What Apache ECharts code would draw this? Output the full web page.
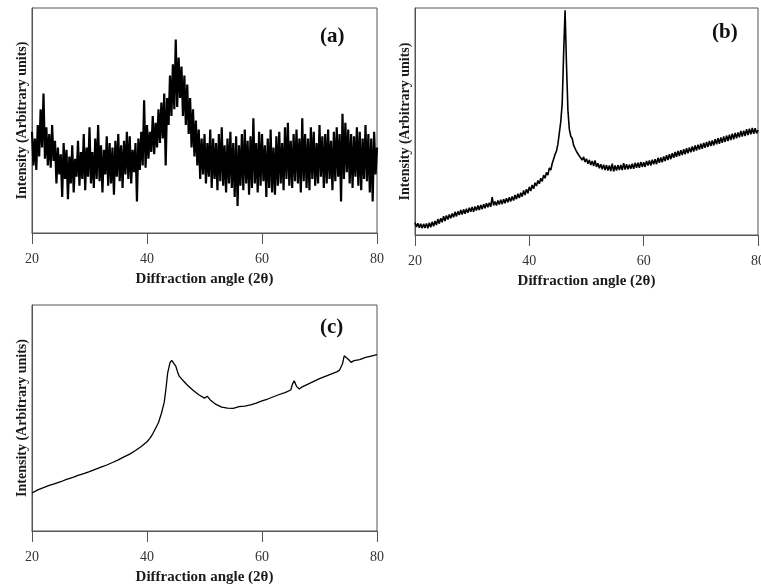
<!DOCTYPE html>
<html>
  <head>
    <meta http-equiv="Content-Type" content="text/html; charset=utf-8" />
    <title>XRD patterns (a) (b) (c)</title>
    <script src="https://cdn.jsdelivr.net/npm/echarts@6/dist/echarts.min.js"></script>
    <style>
      html,
      body {
        margin: 0;
        padding: 0;
        background: #fff;
      }
      #chart {
        width: 761px;
        height: 587px;
      }
    </style>
  </head>

  <body>
    <div id="chart"></div>

    <script type="text/javascript">
      "use strict"

      // x ticks shared by all three panels
      const xTicks = [20, 40, 60, 80]

      // (a) noisy pattern, one reading every 0.25 deg from 20 to 80
      const startA = 20
      const stepA = 0.25
      const intensA = [
        45, 30, 42, 28, 48, 34, 55, 38, // 20-21
        62, 33, 47, 30, 44, 29, 48, 32, // 22-23
        41, 22, 38, 26, 35, 16, 40, 24, // 24-25
        37, 15, 34, 22, 39, 18, 33, 25, // 26-27
        41, 21, 36, 24, 44, 19, 38, 25, // 28-29
        47, 22, 36, 20, 42, 24, 48, 23, // 30-31
        39, 18, 37, 26, 43, 21, 40, 22, // 32-33
        38, 17, 41, 25, 44, 23, 39, 20, // 34-35
        41, 26, 45, 24, 43, 22, 37, 27, // 36-37
        40, 14, 42, 28, 45, 30, 59, 29, // 38-39
        48, 33, 45, 36, 52, 35, 49, 38, // 40-41
        55, 40, 58, 42, 62, 30, 60, 48, // 42-43
        70, 52, 75, 55, 86, 56, 78, 60, // 44-45
        74, 52, 70, 48, 66, 44, 60, 38, // 46-47
        55, 34, 50, 30, 46, 24, 42, 26, // 48-49
        44, 22, 40, 25, 46, 20, 42, 24, // 50-51
        40, 19, 44, 23, 47, 21, 39, 18, // 52-53
        42, 22, 45, 20, 40, 16, 43, 12, // 54-55
        39, 21, 44, 19, 46, 22, 41, 17, // 56-57
        43, 20, 51, 22, 40, 18, 45, 21, // 58-59
        44, 23, 39, 16, 42, 20, 46, 18, // 60-61
        38, 17, 43, 21, 45, 22, 40, 19, // 62-63
        47, 24, 49, 21, 41, 20, 44, 23, // 64-65
        46, 22, 42, 18, 51, 23, 44, 20, // 66-67
        42, 19, 47, 24, 45, 21, 40, 22, // 68-69
        48, 25, 43, 20, 44, 22, 46, 24, // 70-71
        41, 19, 45, 23, 47, 25, 44, 14, // 72-73
        53, 24, 49, 27, 46, 22, 44, 20, // 74-75
        43, 25, 47, 21, 45, 19, 42, 24, // 76-77
        48, 23, 44, 18, 42, 14, 45, 26, // 78-79
        38 // 80
      ]

      // (b) sharp peak near 46 deg, one reading every 0.25 deg
      const startB = 20
      const stepB = 0.25
      const intensB = [
        5.5, 3.5, 5.2, 3.2, 5.0, 3.0, 4.9, 3.1, // 20-21
        5.1, 3.0, 5.4, 3.4, 5.8, 3.8, 6.2, 4.4, // 22-23
        7.0, 5.0, 7.4, 5.6, 8.3, 6.2, 8.6, 6.8, // 24-25
        9.0, 7.4, 9.5, 7.8, 10.2, 8.2, 10.4, 8.8, // 26-27
        11.0, 9.0, 11.3, 9.4, 11.6, 9.8, 12.0, 10.2, // 28-29
        12.3, 10.2, 12.6, 10.8, 13.0, 11.0, 13.2, 11.4, // 30-31
        13.6, 11.8, 14.0, 12.2, 14.2, 12.4, 16.7, 13.0, // 32-33
        14.8, 13.0, 15.2, 13.4, 15.5, 13.6, 15.8, 14.0, // 34-35
        16.2, 14.4, 16.6, 14.8, 17.0, 15.2, 17.6, 15.8, // 36-37
        18.2, 16.3, 18.6, 16.9, 19.6, 17.6, 20.2, 18.4, // 38-39
        21.2, 19.4, 22.0, 20.4, 23.0, 21.6, 24.0, 22.6, // 40-41
        25.0, 23.6, 26.4, 25.0, 27.6, 26.4, 29.6, 28.6, // 42-43
        31.5, 31.0, 35.5, 37.0, 40.0, 45.0, 50.0, 58.0, // 44-45
        80.0, 99.0, 75.0, 55.0, 46.5, 43.5, 42.5, 39.5, // 46-47
        39.0, 36.8, 37.0, 34.8, 35.0, 33.0, 34.4, 32.2, // 48-49
        33.6, 31.4, 33.0, 30.8, 32.6, 30.4, 32.8, 30.0, // 50-51
        31.6, 29.4, 31.2, 29.0, 31.0, 28.6, 30.8, 28.4, // 52-53
        30.6, 28.2, 31.4, 28.0, 30.6, 28.4, 30.8, 28.6, // 54-55
        30.8, 28.6, 31.6, 28.8, 31.2, 29.0, 31.0, 29.2, // 56-57
        31.4, 29.2, 31.8, 29.6, 31.8, 29.6, 32.2, 30.0, // 58-59
        32.0, 30.0, 32.6, 30.6, 32.8, 30.6, 33.2, 31.2, // 60-61
        33.4, 31.2, 34.0, 31.8, 34.2, 32.0, 34.6, 32.6, // 62-63
        35.2, 33.0, 35.6, 33.4, 36.0, 34.0, 36.6, 34.4, // 64-65
        37.0, 34.8, 37.4, 35.2, 37.8, 35.6, 38.2, 36.0, // 66-67
        38.6, 36.4, 39.0, 36.8, 39.4, 37.2, 39.8, 37.6, // 68-69
        40.2, 38.0, 40.6, 38.4, 41.0, 38.8, 41.4, 39.2, // 70-71
        41.6, 39.4, 42.2, 40.0, 42.6, 40.2, 43.0, 40.6, // 72-73
        43.4, 41.0, 43.8, 41.4, 44.2, 41.8, 44.6, 42.2, // 74-75
        45.0, 42.6, 45.2, 43.0, 45.8, 43.4, 46.0, 43.6, // 76-77
        46.6, 44.0, 46.8, 44.4, 47.2, 44.6, 47.0, 44.8, // 78-79
        46.2 // 80
      ]

      // (c) smooth pattern, read at uneven angles
      const angleC = [
        20, 21, 22, 23, 24, 25, 26, 27, 28, 29, 30, 31, 32, 33, 34, 35, 36, 37, 38, 39, 40, 40.5, 41, 41.5, 42, 42.5,
        43, 43.3, 43.6, 44, 44.3, 44.6, 45, 45.3, 45.6, 45.9, 46.3, 47, 48, 49, 50, 50.5, 51, 52, 53, 54, 55, 56, 57,
        58, 59, 60, 61, 62, 63, 64, 65, 65.3, 65.6, 66, 66.5, 67, 68, 69, 70, 71, 72, 73, 73.5, 74, 74.3, 74.6, 75,
        75.5, 76, 77, 78, 79, 80
      ]
      const intensC = [
        16.8, 18.2, 19.2, 20.2, 21, 21.8, 22.8, 23.6, 24.6, 25.4, 26.3, 27.3, 28.3, 29.2, 30.3, 31.5, 32.8, 34.0, 35.6,
        37.4, 39.5, 41, 43, 45.5, 48, 52, 57, 63, 70, 74.5, 75.5, 75.3, 73, 70.5, 68.5, 68.8, 66.5, 64.6, 62.3, 60.3,
        58.8, 59.6, 58, 56, 54.8, 54.4, 54.3, 55, 55.3, 55.8, 56.6, 57.6, 58.4, 59.4, 60.4, 61.2, 62.4, 65, 66.5, 64,
        62.8, 63.8, 65, 66.2, 67.4, 68.4, 69.4, 70.4, 71.2, 74, 77.5, 78, 76, 74.6, 75.4, 75.8, 76.8, 77.4, 78
      ]

      const serif = "'Liberation Serif', 'DejaVu Serif', serif"
      const frame = "#555"

      function pairsFromStep(start, step, values) {
        return values.map((v, i) => [start + i * step, v])
      }

      function xAxisFor(gridIndex) {
        return {
          gridIndex: gridIndex,
          type: "value",
          min: xTicks[0],
          max: xTicks[xTicks.length - 1],
          interval: xTicks[1] - xTicks[0],
          name: "Diffraction angle (2θ)",
          nameLocation: "middle",
          nameGap: 39,
          nameTextStyle: { fontFamily: serif, fontWeight: "bold", fontSize: 15, color: "#1a1a1a" },
          axisLine: { show: true, lineStyle: { color: frame, width: 1 } },
          axisTick: { show: true, inside: false, length: 11, lineStyle: { color: frame, width: 1 } },
          axisLabel: { fontFamily: serif, fontSize: 14, color: "#333", margin: 19 },
          splitLine: { show: false }
        }
      }

      function yAxisFor(gridIndex) {
        return {
          gridIndex: gridIndex,
          type: "value",
          min: 0,
          max: 100,
          name: "Intensity (Arbitrary units)",
          nameLocation: "middle",
          nameGap: 3,
          nameTextStyle: { fontFamily: serif, fontWeight: "bold", fontSize: 14, color: "#1a1a1a" },
          axisLine: { show: true, lineStyle: { color: frame, width: 1 } },
          axisTick: { show: false },
          axisLabel: { show: false },
          splitLine: { show: false }
        }
      }

      function lineSeries(index, data, width) {
        return {
          type: "line",
          xAxisIndex: index,
          yAxisIndex: index,
          data: data,
          showSymbol: false,
          sampling: null,
          lineStyle: { color: "#000", width: width },
          emphasis: { disabled: true }
        }
      }

      function panelLabel(text, x, y) {
        return {
          type: "text",
          left: x,
          top: y,
          style: { text: text, fontFamily: serif, fontWeight: "bold", fontSize: 21, fill: "#111" }
        }
      }

      const myChart = echarts.init(document.getElementById("chart"), null, { renderer: "canvas" })

      const gridBase = { show: true, borderColor: frame, borderWidth: 1, outerBoundsMode: "none", containLabel: false }

      const option = {
        animation: false,
        backgroundColor: "#fff",
        grid: [
          Object.assign({ left: 32, top: 8, width: 345, height: 225 }, gridBase),
          Object.assign({ left: 415, top: 8, width: 343, height: 227 }, gridBase),
          Object.assign({ left: 32, top: 305, width: 345, height: 226 }, gridBase)
        ],
        xAxis: [xAxisFor(0), xAxisFor(1), xAxisFor(2)],
        yAxis: [yAxisFor(0), yAxisFor(1), yAxisFor(2)],
        series: [
          lineSeries(0, pairsFromStep(startA, stepA, intensA), 2.2),
          lineSeries(1, pairsFromStep(startB, stepB, intensB), 1.6),
          lineSeries(2, angleC.map((a, i) => [a, intensC[i]]), 1.3)
        ],
        graphic: [panelLabel("(a)", 320, 26), panelLabel("(b)", 712, 22), panelLabel("(c)", 320, 317)]
      }

      myChart.setOption(option)
    </script>
  </body>
</html>
